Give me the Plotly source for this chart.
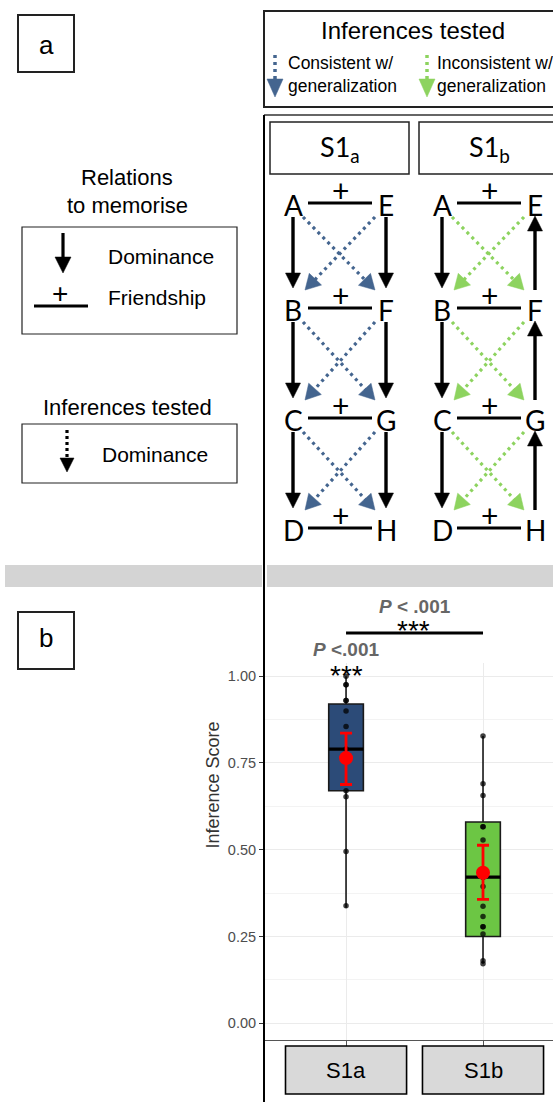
import math
import plotly.graph_objects as go

# ---------------- data ----------------
groups = ["S1a", "S1b"]
box_colors = ["#2c4b78", "#6cc644"]
q1 = [0.67, 0.25]
medians = [0.79, 0.421]
q3 = [0.92, 0.58]
lower_whisker = [0.333, 0.172]
upper_whisker = [1.0, 0.828]
means = [0.764, 0.434]
ci_low = [0.688, 0.357]
ci_high = [0.836, 0.513]
points_s1a = [1.0, 0.975, 0.975, 0.93, 0.93, 0.90, 0.855, 0.79, 0.67, 0.653, 0.495, 0.339]
points_s1b = [0.828, 0.69, 0.656, 0.566, 0.566, 0.528, 0.42, 0.394, 0.337, 0.308,
              0.278, 0.278, 0.257, 0.18, 0.172]
group_points = [points_s1a, points_s1b]
y_ticks = [0.0, 0.25, 0.5, 0.75, 1.0]
p_within = "<b><i>P</i> <.001</b>"
p_between = "<b><i>P</i> < .001</b>"
stars = "***"

left_nodes = ["A", "B", "C", "D"]
right_nodes = ["E", "F", "G", "H"]
panel_titles = ["S1<sub>a</sub>", "S1<sub>b</sub>"]
right_arrow_up = [False, True]
inference_colors = ["#44658f", "#8dd35f"]

# ---------------- helpers (pixel -> paper) ----------------
W, H = 553, 1102
def X(p):
    return p / W
def Y(p):
    return 1 - p / H

shapes = []
annotations = []
FONT = "Liberation Sans, Arial, sans-serif"
DFONT = "Lato, Liberation Sans, sans-serif"

def rect(x0, y0, x1, y1, line="#222", width=1.5, fill=None, layer="above"):
    d = dict(type="rect", xref="paper", yref="paper", x0=X(x0), x1=X(x1), y0=Y(y1), y1=Y(y0),
             line=dict(color=line, width=width), layer=layer)
    if fill:
        d["fillcolor"] = fill
    if width == 0:
        d["line"] = dict(width=0)
    shapes.append(d)

def line(x0, y0, x1, y1, color="black", width=3, dash=None):
    ln = dict(color=color, width=width)
    if dash:
        ln["dash"] = dash
    shapes.append(dict(type="line", xref="paper", yref="paper", x0=X(x0), y0=Y(y0),
                       x1=X(x1), y1=Y(y1), line=ln))

def arrow(x0, y0, x1, y1, color="black", dash=None, width=3.2, hl=15, hw=7.5):
    dx, dy = x1 - x0, y1 - y0
    L = math.hypot(dx, dy)
    ux, uy = dx / L, dy / L
    bx, by = x1 - ux * hl, y1 - uy * hl
    line(x0, y0, bx + ux * 1, by + uy * 1, color=color, width=width, dash=dash)
    nx, ny = -uy, ux
    pth = "M {},{} L {},{} L {},{} Z".format(
        X(x1), Y(y1), X(bx + nx * hw), Y(by + ny * hw), X(bx - nx * hw), Y(by - ny * hw))
    shapes.append(dict(type="path", xref="paper", yref="paper", path=pth,
                       fillcolor=color, line=dict(color=color, width=0.5)))

def text(x, y, s, size=18, color="black", family=FONT, xanchor="center", **kw):
    annotations.append(dict(x=X(x), y=Y(y), xref="paper", yref="paper", text=s,
                            showarrow=False, xanchor=xanchor, yanchor="middle",
                            font=dict(size=size, color=color, family=family), **kw))

# ---------------- panel labels ----------------
rect(18, 15, 74, 72, width=2)
text(46, 45, "a", size=26)
rect(18, 612, 74, 669, width=2)
text(46, 638, "b", size=26)

# ---------------- grey separator band ----------------
rect(5, 565, 262, 587, width=0, fill="#d4d4d4", layer="below")
rect(267, 565, 560, 587, width=0, fill="#d4d4d4", layer="below")

# ---------------- top-right legend box ----------------
rect(264, 11, 562, 107, width=2)
text(413, 31, "Inferences tested", size=24)
dot_dash = "3px,4px"
for cx, col, t1, tx in [(275, inference_colors[0], "Consistent w/", 286),
                        (427, inference_colors[1], "Inconsistent w/", 435)]:
    line(cx, 55, cx, 79, color=col, width=3.5, dash=dot_dash)
    shapes.append(dict(type="path", xref="paper", yref="paper",
                       path="M {},{} L {},{} L {},{} Z".format(X(cx), Y(97), X(cx - 8), Y(79), X(cx + 8), Y(79)),
                       fillcolor=col, line=dict(color=col, width=0.5)))
    text(tx, 63, t1, size=17.5, xanchor="left")
    text(tx, 86, "generalization", size=17.5, xanchor="left")

# ---------------- left legends ----------------
text(127, 177, "Relations", size=22)
text(127, 205, "to memorise", size=22)
rect(22, 227, 237, 334, width=1.2)
arrow(63, 233, 63, 273, hl=16, hw=8, width=3.2)
text(106, 256, "Dominance", size=21, xanchor="left")
line(34, 306, 88, 306, width=3)
text(60, 294, "+", size=28)
text(106, 298, "Friendship", size=21, xanchor="left")

text(127, 407, "Inferences tested", size=22)
rect(22, 424, 237, 483, width=1.2)
arrow(67, 430, 67, 472, dash="3px,3px", hl=14, hw=7, width=3.2)
text(100, 454, "Dominance", size=21, xanchor="left")

# ---------------- diagram panels ----------------
line(264, 115, 562, 115, color="#333", width=1.5)
line(264, 115, 264, 1102, color="black", width=2)

rows = [205, 310, 420, 530]
for k, title in enumerate(panel_titles):
    off = 149 * k
    lx, rx = 293 + off, 386 + off
    rect(270 + off, 122, 409 + off if k == 0 else 560, 174, width=1.5)
    text(340 + off, 149, title, size=27, family=DFONT)
    for r, y in enumerate(rows):
        text(lx, y, left_nodes[r], size=28, family=DFONT)
        text(rx, y, right_nodes[r], size=28, family=DFONT)
        line(lx + 15, y - 2, rx - 14, y - 2, width=3)
        text(340 + off, y - 15, "+", size=30, family=DFONT)
        if r < len(rows) - 1:
            ny = rows[r + 1]
            arrow(lx, y + 12, lx, ny - 22, width=3.4)
            if right_arrow_up[k]:
                arrow(rx, ny - 20, rx, y + 11, width=3.4)
            else:
                arrow(rx, y + 12, rx, ny - 22, width=3.4)
            col = inference_colors[k]
            arrow(lx + 10, y + 12, rx - 11, ny - 20, color=col, dash=dot_dash, width=3.2, hl=15, hw=8.5)
            arrow(rx - 11, y + 12, lx + 12, ny - 20, color=col, dash=dot_dash, width=3.2, hl=15, hw=8.5)

# ---------------- boxplot ----------------
fig = go.Figure()
box_w = 0.253
for i, g in enumerate(groups):
    fig.add_trace(go.Box(x=[i], q1=[q1[i]], median=[medians[i]], q3=[q3[i]],
                         lowerfence=[lower_whisker[i]], upperfence=[upper_whisker[i]],
                         width=box_w, fillcolor=box_colors[i],
                         line=dict(color="#1a1a1a", width=1.6), whiskerwidth=0,
                         boxpoints=False, showlegend=False, hoverinfo="skip"))
    fig.add_trace(go.Scatter(x=[i - box_w / 2, i + box_w / 2], y=[medians[i], medians[i]],
                             mode="lines", line=dict(color="black", width=3.2),
                             showlegend=False, hoverinfo="skip"))
    fig.add_trace(go.Scatter(x=[i] * len(group_points[i]), y=group_points[i], mode="markers",
                             marker=dict(size=5.5, color="black", opacity=0.75),
                             showlegend=False, hoverinfo="skip"))
    fig.add_trace(go.Scatter(x=[i], y=[means[i]], mode="markers",
                             marker=dict(size=14, color="#ff0000"),
                             error_y=dict(type="data", symmetric=False,
                                          array=[ci_high[i] - means[i]],
                                          arrayminus=[means[i] - ci_low[i]],
                                          color="#ff0000", thickness=2.8, width=6),
                             showlegend=False, hoverinfo="skip"))

# category label boxes under the axis
for i, g in enumerate(groups):
    shapes.append(dict(type="rect", xref="x", yref="paper", x0=i - 0.442, x1=i + 0.442,
                       y0=Y(1094), y1=Y(1046), fillcolor="#d9d9d9",
                       line=dict(color="black", width=1.6)))
    annotations.append(dict(x=i, y=Y(1070), xref="x", yref="paper", text=g, showarrow=False,
                            yanchor="middle",
                            font=dict(size=22, color="black", family=FONT)))

# significance annotations
shapes.append(dict(type="line", xref="x", yref="paper", x0=0, x1=1, y0=Y(633), y1=Y(633),
                   line=dict(color="black", width=3)))
annotations.append(dict(x=0.5, y=Y(606), xref="x", yref="paper", text=p_between, showarrow=False,
                        yanchor="middle", font=dict(size=19, color="#666666", family=FONT)))
annotations.append(dict(x=0.49, y=Y(630), xref="x", yref="paper", text=stars, showarrow=False,
                        yanchor="middle", font=dict(size=28, color="black", family=FONT)))
annotations.append(dict(x=0, y=Y(649), xref="x", yref="paper", text=p_within, showarrow=False,
                        yanchor="middle", font=dict(size=19, color="#666666", family=FONT)))
annotations.append(dict(x=0, y=Y(675), xref="x", yref="paper", text=stars, showarrow=False,
                        yanchor="middle", font=dict(size=28, color="black", family=FONT)))
# y-axis title
annotations.append(dict(x=X(212), y=Y(851), xref="paper", yref="paper", text="Inference Score",
                        showarrow=False, textangle=-90,
                        font=dict(size=18, color="#333333", family=FONT)))

fig.update_layout(
    width=W, height=H, autosize=False,
    margin=dict(l=0, r=0, t=0, b=0),
    paper_bgcolor="white", plot_bgcolor="white",
    shapes=shapes, annotations=annotations,
    xaxis=dict(domain=[X(264), 1], range=[-0.599, 1.511], tickvals=[0, 1], showticklabels=False,
               showgrid=True, gridcolor="#ebebeb", gridwidth=1.2, zeroline=False,
               showline=True, linecolor="#555555", linewidth=1.2,
               ticks="outside", ticklen=5, tickcolor="#555555", fixedrange=True),
    yaxis=dict(domain=[Y(1040), Y(663)], range=[-0.048, 1.038], tickvals=y_ticks,
               tickformat=".2f", showgrid=True, gridcolor="#ebebeb", gridwidth=1.2,
               minor=dict(tickvals=[0.125, 0.375, 0.625, 0.875], showgrid=True,
                          gridcolor="#f3f3f3", gridwidth=1),
               zeroline=False, showline=False, ticks="outside", ticklen=4, tickcolor="#333333",
               tickfont=dict(size=14.5, color="#4d4d4d", family=FONT), fixedrange=True),
)

fig.write_html("out.html", config={"displayModeBar": False},
               post_script="document.body.style.margin='0';")
